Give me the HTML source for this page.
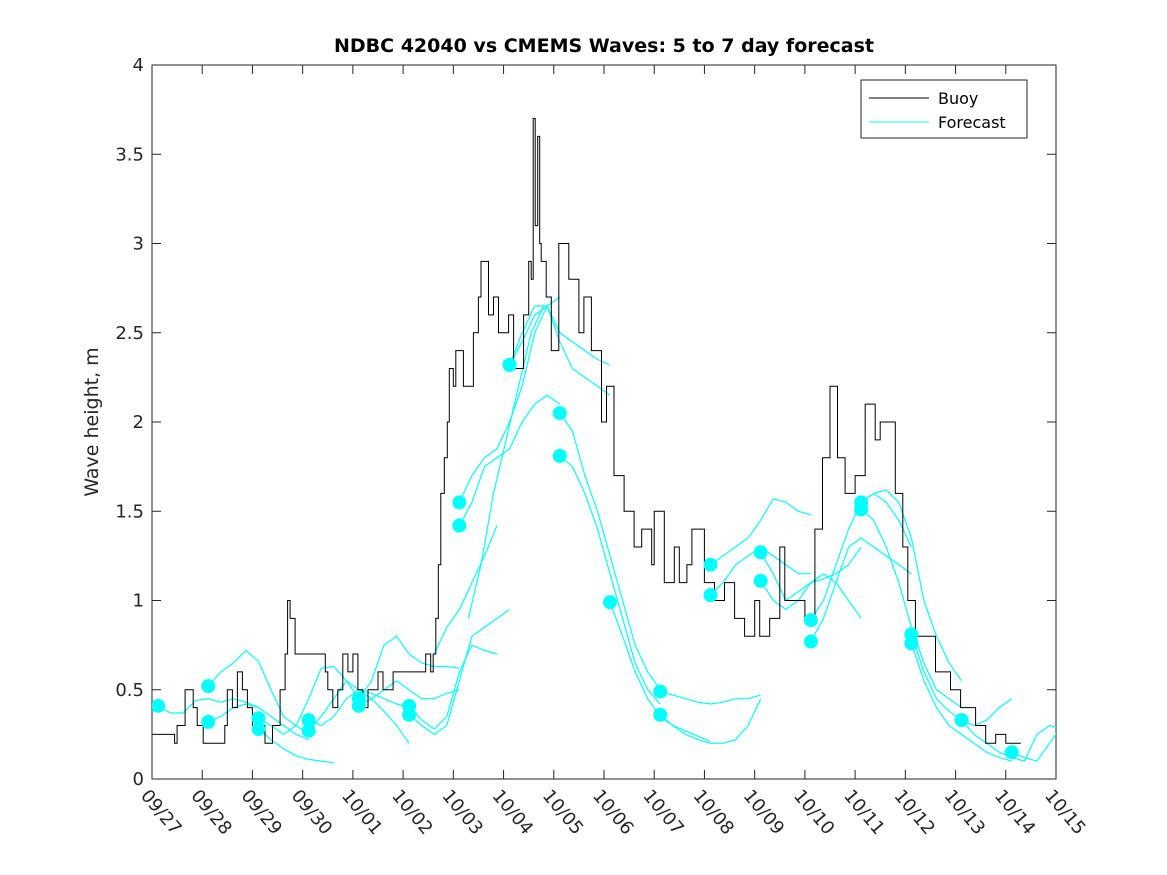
<!DOCTYPE html>
<html><head><meta charset="utf-8"><style>
body{margin:0;background:#fff;}
svg{display:block;font-family:"DejaVu Sans","Liberation Sans",sans-serif;}
</style></head><body>
<svg id="chart" width="1167" height="875">
<defs><clipPath id="pc"><rect x="152" y="65" width="904" height="714"/></clipPath></defs>
<rect x="0" y="0" width="1167" height="875" fill="#fff"/>
<text x="604" y="52" text-anchor="middle" font-size="19" font-weight="bold" fill="#000">NDBC 42040 vs CMEMS Waves: 5 to 7 day forecast</text>
<text transform="translate(98,422) rotate(-90)" text-anchor="middle" font-size="19" fill="#262626">Wave height, m</text>
<g id="axes"></g>
<g id="series" clip-path="url(#pc)"></g>
<g>
<rect x="861" y="80" width="166" height="58" fill="#fff" stroke="#262626" stroke-width="1"/>
<line x1="869" y1="98" x2="929" y2="98" stroke="#000"/>
<text x="938" y="104" font-size="16" fill="#000">Buoy</text>
<line x1="869" y1="122" x2="929" y2="122" stroke="#00ffff"/>
<text x="938" y="128" font-size="16" fill="#000">Forecast</text>
</g>
</svg>
<script>
const xTickLabels=["09/27","09/28","09/29","09/30","10/01","10/02","10/03","10/04","10/05","10/06","10/07","10/08","10/09","10/10","10/11","10/12","10/13","10/14","10/15"];
const yTicks=[0,0.5,1,1.5,2,2.5,3,3.5,4];
const yTickLabels=["0","0.5","1","1.5","2","2.5","3","3.5","4"];
const buoyT=[0,0.45,0.5,0.66,0.82,0.9,1.02,1.45,1.5,1.6,1.7,1.8,1.9,2.0,2.25,2.4,2.55,2.65,2.7,2.75,2.85,3.4,3.45,3.5,3.6,3.7,3.8,3.9,4.0,4.1,4.2,4.3,4.5,4.6,4.8,5.3,5.45,5.55,5.6,5.65,5.7,5.75,5.82,5.88,5.92,6.0,6.05,6.2,6.4,6.5,6.55,6.7,6.8,6.9,7.1,7.2,7.4,7.5,7.55,7.59,7.63,7.68,7.72,7.75,7.85,7.95,8.1,8.3,8.5,8.6,8.75,8.95,9.05,9.2,9.4,9.6,9.75,9.95,10.0,10.2,10.4,10.5,10.65,10.75,11.0,11.2,11.4,11.6,11.8,12.0,12.1,12.3,12.5,12.6,13.0,13.2,13.35,13.5,13.65,13.8,14.0,14.2,14.4,14.5,14.8,14.95,15.05,15.2,15.6,15.9,16.1,16.4,16.6,16.8,17.0,17.3];
const buoyV=[0.25,0.2,0.3,0.5,0.4,0.3,0.2,0.3,0.5,0.4,0.6,0.5,0.4,0.3,0.2,0.3,0.5,0.7,1.0,0.9,0.7,0.7,0.6,0.5,0.4,0.5,0.7,0.6,0.7,0.5,0.4,0.5,0.6,0.5,0.6,0.6,0.7,0.6,0.7,0.9,1.2,1.6,1.8,2.0,2.3,2.2,2.4,2.2,2.5,2.7,2.9,2.6,2.7,2.5,2.6,2.3,2.6,2.9,2.8,3.7,3.1,3.6,3.0,2.9,2.7,2.4,3.0,2.8,2.5,2.7,2.4,2.0,2.2,1.7,1.5,1.3,1.4,1.2,1.5,1.1,1.3,1.1,1.2,1.4,1.1,1.0,1.1,0.9,0.8,1.0,0.8,0.9,1.3,1.0,0.9,1.4,1.8,2.2,1.8,1.6,1.7,2.1,1.9,2.0,1.6,1.3,1.0,0.8,0.6,0.5,0.4,0.3,0.2,0.25,0.2,0.2];
const runStart=[0.12,1.12,1.12,2.12,2.12,3.12,3.12,4.12,4.12,5.12,5.12,5.62,6.3,6.12,6.12,7.12,7.12,8.12,8.12,9.12,10.12,10.12,11.12,11.12,12.12,12.12,13.12,13.12,14.12,14.12,15.12,15.12,16.12,17.12];
const runVals=[
[0.41,0.37,0.37,0.44,0.45,0.43,0.45,0.43,0.40],
[0.52,0.6,0.65,0.72,0.66,0.5,0.35,0.3,0.25],
[0.32,0.35,0.40,0.42,0.40,0.35,0.30,0.25,0.22],
[0.34,0.3,0.25,0.3,0.45,0.62,0.63,0.55,0.45],
[0.28,0.22,0.17,0.13,0.11,0.10,0.09],
[0.33,0.3,0.35,0.45,0.5,0.45,0.38,0.3,0.2],
[0.27,0.35,0.45,0.55,0.5,0.48,0.45,0.42,0.4],
[0.45,0.55,0.75,0.8,0.7,0.65,0.63,0.63,0.62],
[0.41,0.45,0.5,0.55,0.5,0.45,0.45,0.48,0.5],
[0.41,0.33,0.28,0.35,0.6,0.75,0.72,0.7],
[0.36,0.3,0.25,0.3,0.55,0.8,0.85,0.9,0.95],
[0.7,0.85,0.95,1.1,1.25,1.42],
[0.9,1.2,1.6,1.9,2.2,2.5,2.65],
[1.55,1.7,1.8,1.85,2.0,2.2,2.5,2.65,2.7],
[1.42,1.55,1.75,1.8,1.85,2.0,2.1,2.15,2.1],
[2.32,2.45,2.6,2.65,2.5,2.45,2.4,2.35,2.32],
[2.32,2.5,2.65,2.65,2.45,2.3,2.25,2.2,2.15],
[2.05,1.95,1.7,1.5,1.25,1.0,0.75,0.6,0.5],
[1.81,1.75,1.6,1.4,1.15,0.9,0.65,0.5,0.42],
[0.99,0.8,0.6,0.45,0.35,0.3,0.27,0.24,0.21],
[0.49,0.47,0.45,0.43,0.42,0.43,0.45,0.45,0.47],
[0.36,0.3,0.25,0.22,0.2,0.2,0.22,0.3,0.45],
[1.2,1.25,1.3,1.35,1.45,1.57,1.55,1.5,1.48],
[1.03,1.1,1.2,1.25,1.3,1.25,1.2,1.15,1.15],
[1.27,1.15,1.0,1.05,1.1,1.12,1.15,1.2,1.3],
[1.11,1.0,0.95,1.0,1.1,1.15,1.1,1.0,0.9],
[0.89,1.0,1.2,1.4,1.55,1.6,1.55,1.45,1.3],
[0.77,0.9,1.1,1.3,1.35,1.3,1.25,1.2,1.15],
[1.55,1.6,1.62,1.55,1.35,1.0,0.8,0.65,0.55],
[1.51,1.45,1.3,1.1,0.85,0.65,0.5,0.45,0.4],
[0.81,0.6,0.45,0.38,0.33,0.3,0.33,0.4,0.45],
[0.76,0.55,0.4,0.3,0.25,0.2,0.15,0.12,0.1],
[0.33,0.25,0.2,0.15,0.12,0.1,0.25,0.3,0.28],
[0.15,0.12,0.1,0.2,0.3,0.3,0.25]];
const dotT=[0.12,1.12,1.12,2.12,2.12,3.12,3.12,4.12,4.12,5.12,5.12,6.12,6.12,7.12,7.12,8.12,8.12,9.12,10.12,10.12,11.12,11.12,12.12,12.12,13.12,13.12,14.12,14.12,15.12,15.12,16.12,17.12];
const dotV=[0.41,0.52,0.32,0.34,0.28,0.33,0.27,0.45,0.41,0.41,0.36,1.55,1.42,2.32,2.32,2.05,1.81,0.99,0.49,0.36,1.2,1.03,1.27,1.11,0.89,0.77,1.55,1.51,0.81,0.76,0.33,0.15];

const X0=152,X1=1056,Y0=779,Y1=65,TMAX=18,VMAX=4;
function xs(t){return X0+(X1-X0)*t/TMAX;}
function ys(v){return Y0-(Y0-Y1)*v/VMAX;}
const NS="http://www.w3.org/2000/svg";
function mk(tag,attrs,parent){const e=document.createElementNS(NS,tag);for(const k in attrs)e.setAttribute(k,attrs[k]);parent.appendChild(e);return e;}
const axes=document.getElementById('axes'),ser=document.getElementById('series');
const frame=mk('rect',{x:X0,y:Y1,width:X1-X0,height:Y0-Y1,fill:'none',stroke:'#262626','stroke-width':1},axes);


xTickLabels.forEach((lab,i)=>{
  const x=xs(i);
  mk('line',{x1:x,y1:Y0,x2:x,y2:Y0-9,stroke:'#262626'},axes);
  mk('line',{x1:x,y1:Y1,x2:x,y2:Y1+9,stroke:'#262626'},axes);
  const t=mk('text',{transform:`translate(${x-12},${Y0+17}) rotate(50)`,'font-size':18,fill:'#262626'},axes);
  t.textContent=lab;
  
  
});
yTicks.forEach((v,i)=>{
  const y=ys(v);
  mk('line',{x1:X0,y1:y,x2:X0+9,y2:y,stroke:'#262626'},axes);
  mk('line',{x1:X1,y1:y,x2:X1-9,y2:y,stroke:'#262626'},axes);
  const t=mk('text',{x:X0-8,y:y+6,'text-anchor':'end','font-size':18,fill:'#262626'},axes);
  t.textContent=yTickLabels[i];
  
  
});
runStart.forEach((s,i)=>{
  const pts=runVals[i].map((v,j)=>xs(s+j*0.25).toFixed(1)+','+ys(v).toFixed(1)).join(' ');
  const p=mk('polyline',{points:pts,fill:'none',stroke:'#00ffff','stroke-width':1.2},ser);
  
  
});
let d='';
buoyT.forEach((t,i)=>{
  const x=xs(t).toFixed(1),y=ys(buoyV[i]).toFixed(1);
  if(i===0)d+=`M${x},${y}`;else d+=`H${x}V${y}`;
});
const bp=mk('path',{d:d,fill:'none',stroke:'#000','stroke-width':1},ser);


dotT.forEach((t,i)=>{
  const c=mk('circle',{cx:xs(t),cy:ys(dotV[i]),r:7,fill:'#00ffff'},ser);
  
  
});
</script>
</body></html>
